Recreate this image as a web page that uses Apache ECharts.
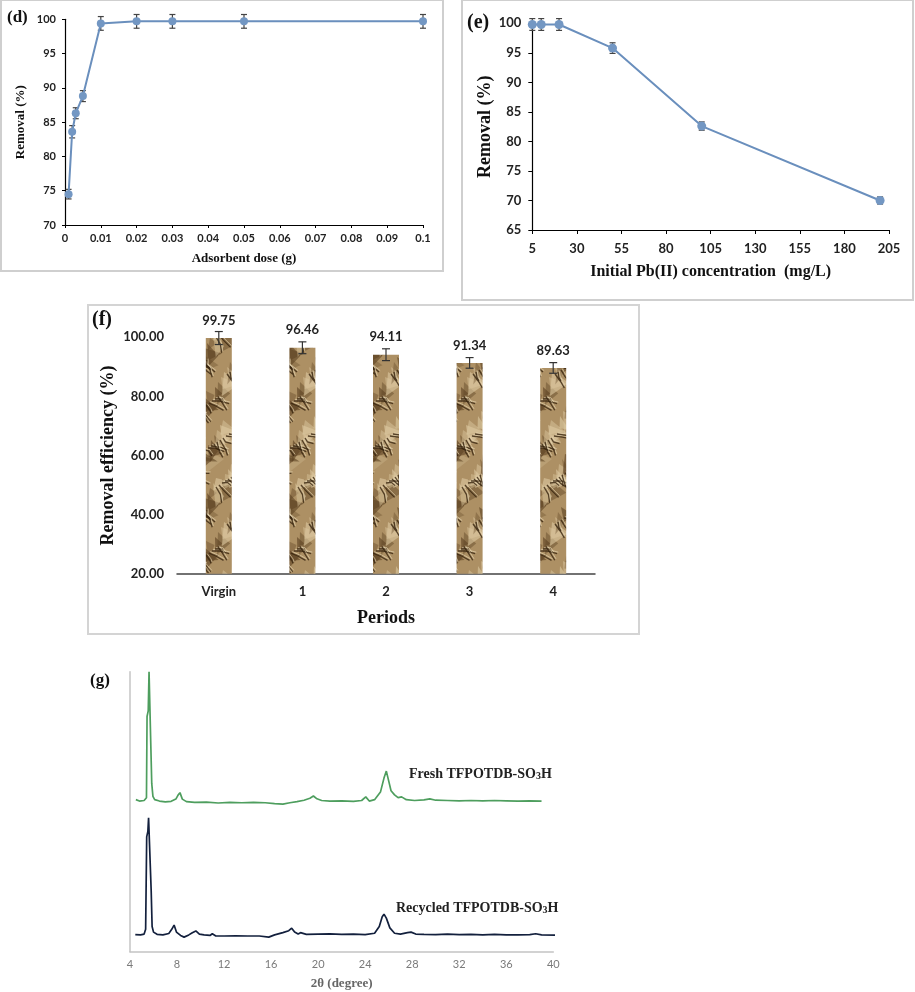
<!DOCTYPE html>
<html><head><meta charset="utf-8">
<script src="https://cdn.jsdelivr.net/npm/echarts@6/dist/echarts.min.js"></script>
<style>html,body{margin:0;padding:0;background:#fff}#c{width:915px;height:992px}</style>
</head><body><div id="c"></div>
<script>
// ---- Panel (d): removal vs adsorbent dose
const doseX = [0.001, 0.002, 0.003, 0.005, 0.01, 0.02, 0.03, 0.05, 0.1];
const doseRemoval = [74.5, 83.6, 86.3, 88.8, 99.4, 99.7, 99.7, 99.7, 99.7];
const doseErr = [0.7, 0.9, 0.8, 0.8, 1.0, 1.0, 1.0, 1.0, 1.0];
// ---- Panel (e): removal vs initial Pb(II) concentration
const concX = [5, 10, 20, 50, 100, 200];
const concRemoval = [99.8, 99.8, 99.8, 95.8, 82.6, 70.0];
const concErr = [1.0, 1.0, 1.0, 0.9, 0.7, 0.6];
// ---- Panel (f): reuse periods
const periods = ['Virgin', '1', '2', '3', '4'];
const periodEff = [99.75, 96.46, 94.11, 91.34, 89.63];
const periodErr = [2.2, 2.0, 2.0, 1.8, 1.8];
// ---- Panel (g): XRD patterns (2θ, relative intensity)
const fresh2T = [4.5,4.8,5.2,5.4,5.45,5.55,5.62,5.68,5.78,5.85,5.95,6.1,6.5,7.0,7.5,7.9,8.1,8.25,8.45,8.8,9.5,10.5,11.5,12.5,13.5,14.5,15.5,16.3,17.0,17.6,18.2,18.8,19.3,19.6,19.9,20.3,21,22,23,23.7,24.05,24.35,24.8,25.3,25.6,25.8,26.0,26.2,26.5,26.8,27.1,27.5,28.2,29,29.5,30,31,32,33,34,35,36,37,38,39];
const freshI = [54.3,53.8,54.0,55,84,86,100,100,72,60,55.5,54.3,53.8,53.5,53.7,54.5,56,56.8,54.5,53.6,53.3,53.4,53.1,53.3,53.2,53.3,53.2,52.9,52.7,53.2,53.6,54.1,54.8,55.6,54.6,54.0,53.8,53.9,53.7,54.0,55.3,53.8,54.3,57,62,64.5,61,57.5,56,55,55.3,54.3,54.0,54.2,54.6,54.1,54.0,53.9,54.0,53.9,54.0,53.9,53.8,53.9,53.8];
const recyc2T = [4.45,4.9,5.2,5.33,5.42,5.52,5.58,5.64,5.74,5.8,5.88,6.0,6.3,6.8,7.3,7.55,7.75,7.95,8.3,8.6,9.0,9.3,9.6,9.9,10.3,10.8,11.0,11.3,12,13,14,15,15.8,16.3,17.0,17.5,17.75,18.0,18.3,18.5,19,20,21,22,23,24,24.8,25.2,25.45,25.6,25.8,26.1,26.5,27,27.6,27.9,28.3,29,30,31,32,33,34,35,36,37,38,38.5,39,40.3];
const recycI = [6.1,6.0,6.3,8,41,43,47.8,47.8,47.8,22,9,7,6.2,6.0,6.5,8,9.5,7,5.8,5.2,6.0,6.8,7.4,6.3,6.0,5.8,6.4,5.6,5.6,5.7,5.6,5.6,5.2,6.0,6.8,7.5,8.4,7.0,6.3,6.8,6.2,6.3,6.4,6.2,6.3,6.1,6.6,9,12.5,13.4,12,8.5,6.6,6.3,6.8,7.0,6.3,6.2,6.1,6.3,6.1,6.2,6.0,6.2,6.0,6.0,6.1,6.4,6.0,5.9];

const ticksD = {min: 70, max: 100, interval: 5};
const ticksE = {min: 65, max: 100, interval: 5};
const ticksF = {min: 20, max: 100, interval: 20};

const chart = echarts.init(document.getElementById('c'), null, {renderer: 'canvas'});
const SANS = 'Lato';
const SERIF = 'Liberation Serif';

// crumpled-paper texture for the bars (deterministic drawing)
function makeTexture() {
  const W = 41, H = 150;
  const c = document.createElement('canvas');
  c.width = W; c.height = H;
  const g = c.getContext('2d');
  g.fillStyle = '#ad9064'; g.fillRect(0, 0, W, H);
  // shaded facets
  for (let i = 0; i < 34; i++) {
    const x0 = (i * 17) % W, y0 = (i * 29) % H;
    const shade = Math.sin(i * 2.7);
    g.fillStyle = shade > 0 ? 'rgba(95,68,36,' + (0.3 + 0.35 * shade) + ')' : 'rgba(222,202,162,' + (0.25 - 0.35 * shade) + ')';
    for (const dx of [-W, 0, W]) for (const dy of [-H, 0, H]) {
      g.beginPath();
      g.moveTo(x0 + dx, y0 + dy);
      g.lineTo(x0 + dx + 13 + 6 * Math.cos(i), y0 + dy + 9 + 5 * Math.sin(i * 1.9));
      g.lineTo(x0 + dx + 3 * Math.sin(i * 3.1), y0 + dy + 18 + 6 * Math.cos(i * 0.7));
      g.closePath(); g.fill();
    }
  }
  // creases
  for (let i = 0; i < 34; i++) {
    const x0 = (i * 11) % W, y0 = (i * 37) % H;
    const a = 0.7 + 0.55 * Math.sin(i * 1.3);
    const L = 9 + 9 * Math.abs(Math.sin(i * 2.1));
    const mx = x0 + L * 0.5 * Math.cos(a) + 2 * Math.sin(i), my = y0 + L * 0.5 * Math.sin(a) - 2 * Math.cos(i * 1.4);
    const ex = x0 + L * Math.cos(a), ey = y0 + L * Math.sin(a);
    for (const dx of [-W, 0, W]) for (const dy of [-H, 0, H]) {
      g.strokeStyle = 'rgba(55,36,15,0.8)'; g.lineWidth = 1.3;
      g.beginPath(); g.moveTo(x0 + dx, y0 + dy); g.lineTo(mx + dx, my + dy); g.lineTo(ex + dx, ey + dy); g.stroke();
      g.strokeStyle = 'rgba(232,216,182,0.65)'; g.lineWidth = 1;
      g.beginPath(); g.moveTo(x0 + dx + 1.2, y0 + dy - 1.4); g.lineTo(mx + dx + 1.2, my + dy - 1.4); g.lineTo(ex + dx + 1.2, ey + dy - 1.4); g.stroke();
    }
  }
  return c;
}
const tex = makeTexture();

function errSeries(xAxisIndex, yAxisIndex, xs, ys, es, color, capW) {
  return {
    type: 'custom', xAxisIndex, yAxisIndex, z: 3, clip: false,
    data: xs.map((x, i) => [x, ys[i], es[i]]),
    renderItem: function (params, api) {
      const x = api.value(0), v = api.value(1), e = api.value(2);
      const top = api.coord([x, v + e]);
      const bot = api.coord([x, v - e]);
      const s = {stroke: color, lineWidth: 1.2};
      return {type: 'group', children: [
        {type: 'line', shape: {x1: top[0], y1: top[1], x2: bot[0], y2: bot[1]}, style: s},
        {type: 'line', shape: {x1: top[0] - capW, y1: top[1], x2: top[0] + capW, y2: top[1]}, style: s},
        {type: 'line', shape: {x1: bot[0] - capW, y1: bot[1], x2: bot[0] + capW, y2: bot[1]}, style: s}
      ]};
    }
  };
}

const blackAxis = {lineStyle: {color: '#000', width: 1.2}};
const option = {
  animation: false,
  backgroundColor: '#fff',
  grid: [
    {left: 65, top: 19.3, width: 358, height: 205.7},
    {left: 532.3, top: 23.3, width: 356.7, height: 206.7},
    {left: 177, top: 337.3, width: 418, height: 236.4},
    {left: 130, top: 671.7, width: 423.3, height: 280}
  ],
  xAxis: [
    {gridIndex: 0, type: 'value', min: 0, max: 0.1, interval: 0.01,
     axisLine: blackAxis, axisTick: {show: true, length: 3, lineStyle: {color: '#000'}}, splitLine: {show: false},
     axisLabel: {fontFamily: SANS, fontWeight: 'bold', fontSize: 11, color: '#222', margin: 8},
     name: 'Adsorbent dose (g)', nameLocation: 'middle', nameGap: 27,
     nameTextStyle: {fontFamily: SERIF, fontWeight: 'bold', fontSize: 13, color: '#111'}},
    {gridIndex: 1, type: 'value', min: 5, max: 205, interval: 25,
     axisLine: blackAxis, axisTick: {show: true, length: 4, lineStyle: {color: '#000'}}, splitLine: {show: false},
     axisLabel: {fontFamily: SANS, fontWeight: 'bold', fontSize: 13, color: '#222', margin: 12},
     name: 'Initial Pb(II) concentration  (mg/L)', nameLocation: 'middle', nameGap: 34,
     nameTextStyle: {fontFamily: SERIF, fontWeight: 'bold', fontSize: 16, color: '#111'}},
    {gridIndex: 2, type: 'category', data: periods,
     axisLine: {lineStyle: {color: '#444', width: 1.5}}, axisTick: {show: false},
     axisLabel: {fontFamily: SANS, fontWeight: 'bold', fontSize: 13, color: '#222', margin: 12},
     name: 'Periods', nameLocation: 'middle', nameGap: 36,
     nameTextStyle: {fontFamily: SERIF, fontWeight: 'bold', fontSize: 18, color: '#111'}},
    {gridIndex: 3, type: 'value', min: 4, max: 40, interval: 4,
     axisLine: {lineStyle: {color: '#c4c4c4', width: 1.5}}, axisTick: {show: false}, splitLine: {show: false},
     axisLabel: {fontFamily: SANS, fontSize: 11, color: '#7a7a7a', margin: 7},
     name: '2θ (degree)', nameLocation: 'middle', nameGap: 25,
     nameTextStyle: {fontFamily: SERIF, fontWeight: 'bold', fontSize: 13, color: '#666'}}
  ],
  yAxis: [
    {gridIndex: 0, type: 'value', min: ticksD.min, max: ticksD.max, interval: ticksD.interval,
     axisLine: {show: true, lineStyle: {color: '#000', width: 1.2}}, axisTick: {show: true, length: 3, lineStyle: {color: '#000'}},
     splitLine: {show: false},
     axisLabel: {fontFamily: SANS, fontWeight: 'bold', fontSize: 11, color: '#222', margin: 9},
     name: 'Removal (%)', nameLocation: 'middle', nameGap: 38,
     nameTextStyle: {fontFamily: SERIF, fontWeight: 'bold', fontSize: 13, color: '#111'}},
    {gridIndex: 1, type: 'value', min: ticksE.min, max: ticksE.max, interval: ticksE.interval,
     axisLine: {show: true, lineStyle: {color: '#000', width: 1.2}}, axisTick: {show: true, length: 4, lineStyle: {color: '#000'}},
     splitLine: {show: false},
     axisLabel: {fontFamily: SANS, fontWeight: 'bold', fontSize: 13, color: '#222', margin: 11},
     name: 'Removal (%)', nameLocation: 'middle', nameGap: 36,
     nameTextStyle: {fontFamily: SERIF, fontWeight: 'bold', fontSize: 18, color: '#111'}},
    {gridIndex: 2, type: 'value', min: ticksF.min, max: ticksF.max, interval: ticksF.interval,
     axisLine: {show: false}, axisTick: {show: false}, splitLine: {show: false},
     axisLabel: {fontFamily: SANS, fontWeight: 'bold', fontSize: 13, color: '#222', margin: 13,
                 formatter: v => v.toFixed(2)},
     name: 'Removal efficiency (%)', nameLocation: 'middle', nameGap: 60,
     nameTextStyle: {fontFamily: SERIF, fontWeight: 'bold', fontSize: 18, color: '#111'}},
    {gridIndex: 3, type: 'value', min: 0, max: 100,
     axisLine: {show: true, lineStyle: {color: '#c4c4c4', width: 1.5}}, axisTick: {show: false},
     axisLabel: {show: false}, splitLine: {show: false}}
  ],
  series: [
    errSeries(0, 0, doseX, doseRemoval, doseErr, '#444', 3),
    {type: 'line', xAxisIndex: 0, yAxisIndex: 0, z: 4, data: doseX.map((x, i) => [x, doseRemoval[i]]),
     symbol: 'circle', symbolSize: 8, lineStyle: {color: '#6a8fbd', width: 2}, itemStyle: {color: '#7397c3'}},
    errSeries(1, 1, concX, concRemoval, concErr, '#444', 3),
    {type: 'line', xAxisIndex: 1, yAxisIndex: 1, z: 4, data: concX.map((x, i) => [x, concRemoval[i]]),
     symbol: 'circle', symbolSize: 9, lineStyle: {color: '#6a8fbd', width: 2}, itemStyle: {color: '#7397c3'}},
    {type: 'bar', xAxisIndex: 2, yAxisIndex: 2, data: periodEff, barWidth: 26,
     itemStyle: {color: {image: tex, repeat: 'repeat'}},
     label: {show: true, position: 'top', distance: 11, fontFamily: SANS, fontWeight: 'bold', fontSize: 13, color: '#222',
             formatter: p => p.value.toFixed(2)}},
    errSeries(2, 2, periods.map((p, i) => i), periodEff, periodErr, '#333', 4),
    {type: 'line', xAxisIndex: 3, yAxisIndex: 3, data: fresh2T.map((x, i) => [x, freshI[i]]),
     showSymbol: false, symbol: 'none', clip: false, lineStyle: {color: '#4e9e5e', width: 1.7}},
    {type: 'line', xAxisIndex: 3, yAxisIndex: 3, data: recyc2T.map((x, i) => [x, recycI[i]]),
     showSymbol: false, symbol: 'none', clip: false, lineStyle: {color: '#13203d', width: 1.7}}
  ],
  graphic: [
    {type: 'rect', shape: {x: 1, y: 0, width: 442, height: 271}, style: {fill: 'none', stroke: '#cfcfcf', lineWidth: 2}, z: -1},
    {type: 'rect', shape: {x: 462, y: 0, width: 451, height: 300}, style: {fill: 'none', stroke: '#cfcfcf', lineWidth: 2}, z: -1},
    {type: 'rect', shape: {x: 88, y: 305, width: 551, height: 329}, style: {fill: 'none', stroke: '#d4d4d4', lineWidth: 2}, z: -1},
    {type: 'text', left: 7, top: 9, style: {text: '(d)', font: 'bold 17px "Liberation Serif"', fill: '#111'}},
    {type: 'text', left: 467, top: 13, style: {text: '(e)', font: 'bold 20px "Liberation Serif"', fill: '#111'}},
    {type: 'text', left: 92, top: 310, style: {text: '(f)', font: 'bold 20px "Liberation Serif"', fill: '#111'}},
    {type: 'text', left: 90, top: 672, style: {text: '(g)', font: 'bold 17px "Liberation Serif"', fill: '#111'}},
    {type: 'text', left: 409, top: 767, style: {
      text: '{a|Fresh TFPOTDB-SO}{s|3}{a|H}',
      rich: {a: {fontFamily: SERIF, fontWeight: 'bold', fontSize: 14, fill: '#222'},
             s: {fontFamily: SERIF, fontWeight: 'bold', fontSize: 10, fill: '#222', verticalAlign: 'bottom', padding: [5, 0, 0, 0]}}}},
    {type: 'text', left: 396, top: 901, style: {
      text: '{a|Recycled TFPOTDB-SO}{s|3}{a|H}',
      rich: {a: {fontFamily: SERIF, fontWeight: 'bold', fontSize: 14, fill: '#222'},
             s: {fontFamily: SERIF, fontWeight: 'bold', fontSize: 10, fill: '#222', verticalAlign: 'bottom', padding: [5, 0, 0, 0]}}}}
  ]
};
chart.setOption(option);
</script>
</body></html>
